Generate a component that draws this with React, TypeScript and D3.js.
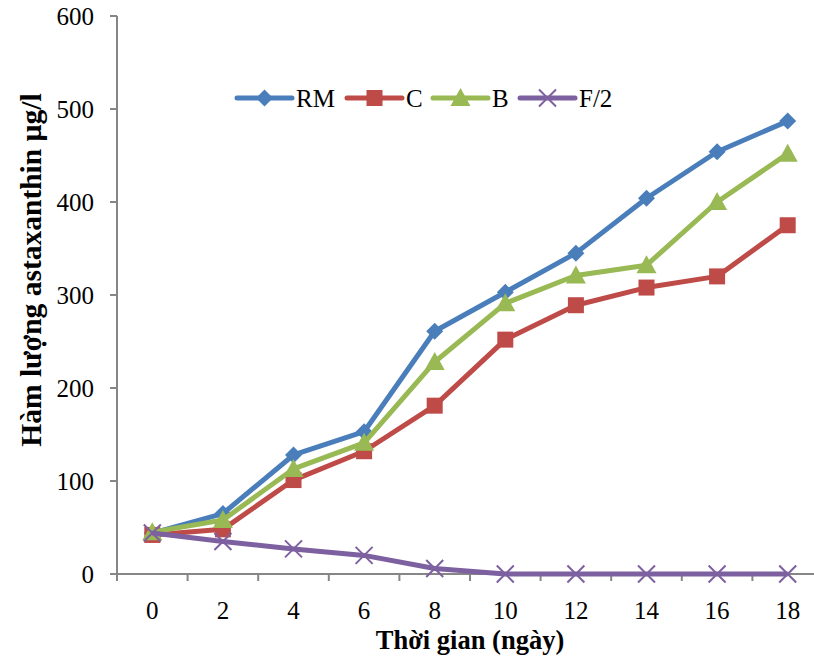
import React from "react";
import * as d3 from "d3";

const WIDTH = 814;
const HEIGHT = 663;
const MARGIN = { top: 16, left: 117, bottom: 89 };
const BAND = 70.6;

const days = ["0", "2", "4", "6", "8", "10", "12", "14", "16", "18"];
const yTicks = [0, 100, 200, 300, 400, 500, 600];

const rmValues = [44, 65, 128, 153, 261, 303, 345, 404, 454, 487];
const cValues = [42, 48, 101, 132, 181, 252, 289, 308, 320, 375];
const bValues = [45, 58, 113, 141, 228, 291, 321, 332, 400, 452];
const f2Values = [44, 35, 27, 20, 6, 0, 0, 0, 0, 0];

const seriesNames = ["RM", "C", "B", "F/2"];
const seriesColors = ["#4A7EBB", "#BE4B48", "#98B954", "#7D60A0"];
const seriesMarkers = ["diamond", "square", "triangle", "x"];

const FONT = "'Liberation Serif', 'Times New Roman', serif";

const Marker = ({ kind, x, y, color }: { kind: string; x: number; y: number; color: string }) => {
  if (kind === "diamond") {
    const s = 8.5;
    return <path d={`M${x},${y - s}L${x + s},${y}L${x},${y + s}L${x - s},${y}Z`} fill={color} />;
  }
  if (kind === "square") {
    const s = 8;
    return <rect x={x - s} y={y - s} width={2 * s} height={2 * s} fill={color} />;
  }
  if (kind === "triangle") {
    const s = 10;
    return <path d={`M${x},${y - s}L${x + s},${y + s * 0.8}L${x - s},${y + s * 0.8}Z`} fill={color} />;
  }
  const s = 8.5;
  return (
    <path
      d={`M${x - s},${y - s}L${x + s},${y + s}M${x + s},${y - s}L${x - s},${y + s}`}
      stroke={color}
      strokeWidth={2}
      fill="none"
    />
  );
};

const App = () => {
  const plotBottom = HEIGHT - MARGIN.bottom;
  const xScale = d3
    .scaleBand()
    .domain(days)
    .range([MARGIN.left, MARGIN.left + BAND * days.length]);
  const yScale = d3.scaleLinear().domain([0, 600]).range([plotBottom, MARGIN.top]);

  const series = [rmValues, cValues, bValues, f2Values];
  const cx = (d: string) => (xScale(d) ?? 0) + xScale.bandwidth() / 2;

  const line = d3
    .line<number>()
    .x((_, i) => cx(days[i]))
    .y((v) => yScale(v));

  const legendX = [237, 347, 433, 520];
  const legendY = 98;

  return (
    <svg width={WIDTH} height={HEIGHT} style={{ position: "absolute", left: 0, top: 0 }}>
      <rect width={WIDTH} height={HEIGHT} fill="white" />
      {/* axes */}
      <line x1={MARGIN.left} x2={MARGIN.left} y1={MARGIN.top} y2={plotBottom} stroke="#868686" strokeWidth={2} />
      <line
        x1={MARGIN.left}
        x2={MARGIN.left + BAND * days.length}
        y1={plotBottom}
        y2={plotBottom}
        stroke="#868686"
        strokeWidth={2}
      />
      {yTicks.map((t) => (
        <g key={t}>
          <line x1={MARGIN.left - 7} x2={MARGIN.left} y1={yScale(t)} y2={yScale(t)} stroke="#868686" strokeWidth={2} />
          <text
            x={MARGIN.left - 23}
            y={yScale(t)}
            textAnchor="end"
            dominantBaseline="central"
            fontFamily={FONT}
            fontSize={25}
          >
            {t}
          </text>
        </g>
      ))}
      {days.map((d, i) => (
        <g key={d}>
          <line
            x1={MARGIN.left + BAND * i}
            x2={MARGIN.left + BAND * i}
            y1={plotBottom}
            y2={plotBottom + 7}
            stroke="#868686"
            strokeWidth={2}
          />
          <text x={cx(d)} y={plotBottom + 36} textAnchor="middle" dominantBaseline="central" fontFamily={FONT} fontSize={25}>
            {d}
          </text>
        </g>
      ))}
      {/* axis titles */}
      <text
        x={470}
        y={640}
        textAnchor="middle"
        dominantBaseline="central"
        fontFamily={FONT}
        fontWeight="bold"
        fontSize={26.5}
      >
        Thời gian (ngày)
      </text>
      <text
        transform={`translate(31,270) rotate(-90)`}
        textAnchor="middle"
        dominantBaseline="central"
        fontFamily={FONT}
        fontWeight="bold"
        fontSize={29.5}
      >
        Hàm lượng astaxanthin µg/l
      </text>
      {/* series */}
      {series.map((vals, si) => (
        <g key={seriesNames[si]}>
          <path d={line(vals) ?? ""} fill="none" stroke={seriesColors[si]} strokeWidth={5} strokeLinejoin="round" />
          {vals.map((v, i) => (
            <Marker key={i} kind={seriesMarkers[si]} x={cx(days[i])} y={yScale(v)} color={seriesColors[si]} />
          ))}
        </g>
      ))}
      {/* legend */}
      {seriesNames.map((name, si) => (
        <g key={name}>
          <line
            x1={legendX[si]}
            x2={legendX[si] + 55}
            y1={legendY}
            y2={legendY}
            stroke={seriesColors[si]}
            strokeWidth={5}
            strokeLinecap="round"
          />
          <Marker kind={seriesMarkers[si]} x={legendX[si] + 27.5} y={legendY} color={seriesColors[si]} />
          <text x={legendX[si] + 59} y={legendY} dominantBaseline="central" fontFamily={FONT} fontSize={25}>
            {name}
          </text>
        </g>
      ))}
    </svg>
  );
};

export default App;
